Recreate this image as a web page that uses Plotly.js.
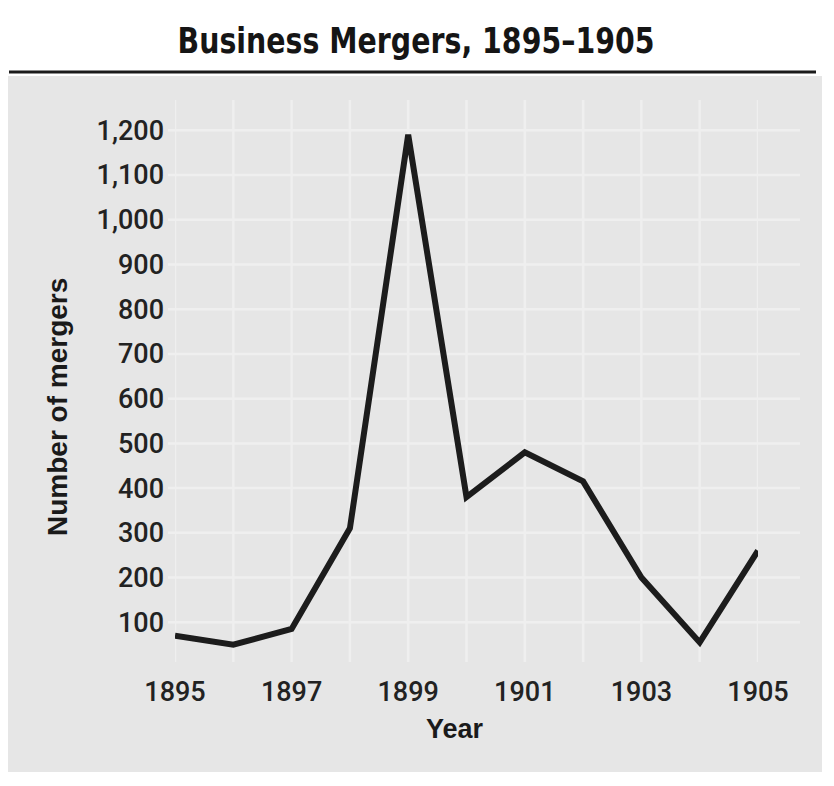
<!DOCTYPE html>
<html>
<head>
<meta charset="utf-8">
<script src="https://cdn.plot.ly/plotly-3.0.1.min.js"></script>
<style>html,body{margin:0;padding:0;background:#fff;}#chart{width:834px;height:786px;}</style>
</head>
<body>
<div id="chart"></div>
<script>
// Data
const years = [1895, 1896, 1897, 1898, 1899, 1900, 1901, 1902, 1903, 1904, 1905];
const mergers = [70, 50, 85, 310, 1190, 380, 480, 415, 200, 55, 260];

const xTickVals = [1895, 1897, 1899, 1901, 1903, 1905];
const xTickText = ['1895', '1897', '1899', '1901', '1903', '1905'];
const yTickVals = [100, 200, 300, 400, 500, 600, 700, 800, 900, 1000, 1100, 1200];
const yTickText = ['100', '200', '300', '400', '500', '600', '700', '800', '900', '1,000', '1,100', '1,200'];
const yearGrid = [1895, 1896, 1897, 1898, 1899, 1900, 1901, 1902, 1903, 1904, 1905];

const titleText = 'Business Mergers, 1895–1905';
const xTitle = 'Year';
const yTitle = 'Number of mergers';

const W = 834, H = 786;
const L = 175, R = 76, T = 99, B = 119;
const pw = W - L - R, ph = H - T - B;
function px(xp){ return (xp - L) / pw; }
function py(yp){ return (H - B - yp) / ph; }

const trace = {
  x: years, y: mergers, type: 'scatter', mode: 'lines',
  line: {color: '#1c1c1c', width: 6, shape: 'linear'},
  hoverinfo: 'skip'
};

const tickFont = {family: 'Roboto, Liberation Sans, Arial, sans-serif', size: 27, color: '#222222', weight: 500};
const labelFont = {family: 'Liberation Sans, Arial, sans-serif', size: 28, color: '#1a1a1a'};

const layout = {
  width: W, height: H,
  margin: {l: L, r: R, t: T, b: B, pad: 0},
  paper_bgcolor: '#ffffff',
  plot_bgcolor: 'rgba(0,0,0,0)',
  showlegend: false,
  title: {
    text: '<b>' + titleText + '</b>',
    font: {family: 'DejaVu Sans, sans-serif', size: 36, color: '#151515'},
    x: 416 / W, xref: 'container', xanchor: 'center',
    y: 1 - 40 / H, yref: 'container', yanchor: 'middle'
  },
  xaxis: {
    range: [1895, 1905],
    tickvals: xTickVals, ticktext: xTickText,
    tickfont: tickFont,
    ticks: '', ticklabelstandoff: 6,
    showgrid: false, zeroline: false, showline: false,
    automargin: false
  },
  yaxis: {
    range: [0, 1270],
    tickvals: yTickVals, ticktext: yTickText,
    tickfont: tickFont,
    ticks: '', ticklabelstandoff: 10,
    showgrid: false, zeroline: false, showline: false,
    automargin: false
  },
  annotations: [
    {text: '<b>' + xTitle + '</b>', xref: 'paper', yref: 'paper', x: px(455), y: py(729),
     xanchor: 'center', yanchor: 'middle', showarrow: false, font: {family: labelFont.family, size: 27, color: labelFont.color}},
    {text: '<b>' + yTitle + '</b>', xref: 'paper', yref: 'paper', x: px(58), y: py(407),
     xanchor: 'center', yanchor: 'middle', textangle: -90, showarrow: false, font: labelFont}
  ],
  shapes: [
    // gray panel
    {type: 'rect', xref: 'paper', yref: 'paper', layer: 'below',
     x0: px(8), x1: px(822), y0: py(772), y1: py(76),
     fillcolor: '#e6e6e6', line: {width: 0}},
    // rule under the title
    {type: 'line', xref: 'paper', yref: 'paper', layer: 'above',
     x0: px(9), x1: px(816), y0: py(72), y1: py(72),
     line: {color: '#1a1a1a', width: 3}}
  ]
};

// gridlines (faint, slightly whiter than the panel)
yTickVals.forEach(v => {
  layout.shapes.push({type: 'line', xref: 'paper', yref: 'y', layer: 'below',
    x0: px(168), x1: px(800), y0: v, y1: v, line: {color: '#efefef', width: 2.5}});
});
yearGrid.forEach(v => {
  layout.shapes.push({type: 'line', xref: 'x', yref: 'paper', layer: 'below',
    x0: v, x1: v, y0: py(662), y1: py(100), line: {color: '#efefef', width: 2.5}});
});

Plotly.newPlot('chart', [trace], layout, {staticPlot: true, displayModeBar: false}).then(gd => {
  const t = gd.querySelector('.gtitle');
  if (t) {
    t.setAttribute('textLength', '477');
    t.setAttribute('lengthAdjust', 'spacingAndGlyphs');
  }
});
</script>
</body>
</html>
